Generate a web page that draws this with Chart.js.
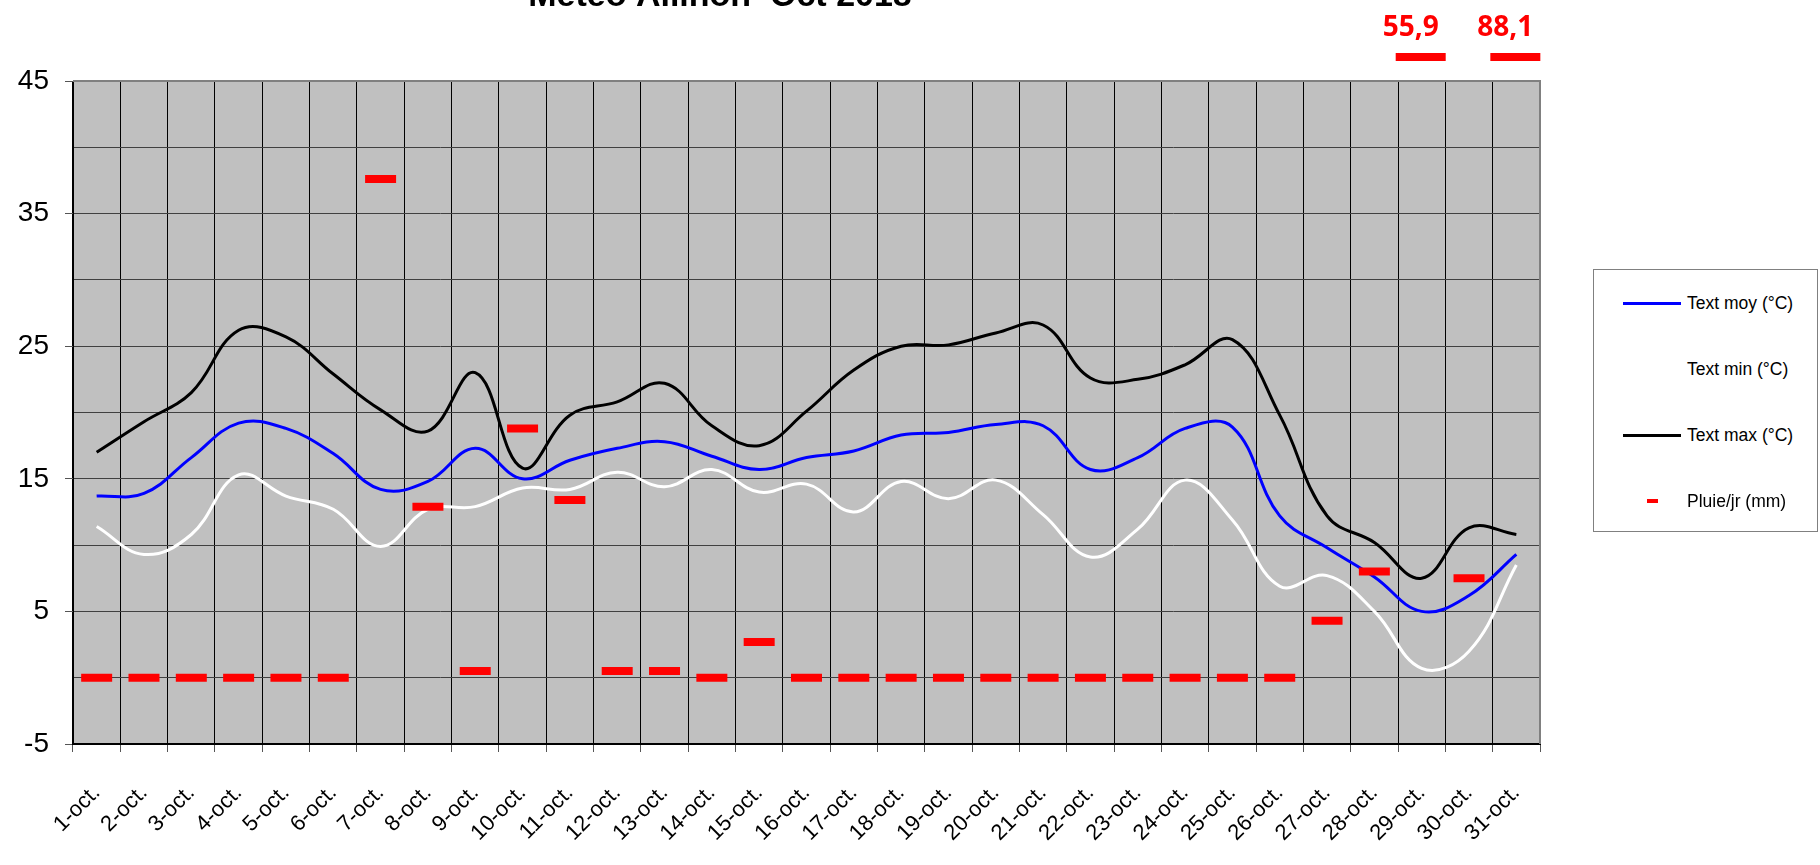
<!DOCTYPE html>
<html lang="fr">
<head>
<meta charset="utf-8">
<title>Meteo Allinon Oct 2018</title>
<script src="https://cdn.jsdelivr.net/npm/chart.js@4.4.0/dist/chart.umd.min.js"></script>
<style>
    body { margin: 0; background: #fff; }
    .wrap { position: relative; width: 1820px; height: 865px; overflow: hidden; }
    #meteoChart { position: absolute; left: 0; top: 0; }
    .legend {
        position: absolute; left: 1593px; top: 269px; width: 225px; height: 263px;
        border: 1px solid #808080; background: #fff; box-sizing: border-box;
        font-family: "Liberation Sans", Arial, sans-serif; font-size: 17.5px; color: #000;
    }
    .legend-item { position: absolute; left: 0; width: 100%; height: 66px; }
    .legend-swatch { position: absolute; }
    .legend-text { position: absolute; left: 93px; top: 0; line-height: 66px; white-space: nowrap; }
</style>
</head>
<body>
<div class="wrap">
    <canvas id="meteoChart" width="1820" height="865"></canvas>
    <div class="legend" id="legend"></div>
</div>
<script>
// Days of the month
const days = ['1-oct.', '2-oct.', '3-oct.', '4-oct.', '5-oct.', '6-oct.', '7-oct.', '8-oct.', '9-oct.', '10-oct.',
    '11-oct.', '12-oct.', '13-oct.', '14-oct.', '15-oct.', '16-oct.', '17-oct.', '18-oct.', '19-oct.', '20-oct.',
    '21-oct.', '22-oct.', '23-oct.', '24-oct.', '25-oct.', '26-oct.', '27-oct.', '28-oct.', '29-oct.', '30-oct.', '31-oct.'];

// Temperatures (°C)
const textMoy = [13.7, 13.9, 16.6, 19.2, 18.8, 16.9, 14.2, 14.8, 17.3, 15.0, 16.4, 17.3, 17.8, 16.7, 15.7, 16.6,
    17.1, 18.3, 18.5, 19.1, 19.0, 15.7, 16.6, 18.8, 18.9, 12.2, 9.8, 7.6, 5.0, 6.2, 9.3];
const textMin = [11.4, 9.3, 10.8, 15.3, 13.7, 12.7, 9.9, 12.7, 12.9, 14.3, 14.2, 15.5, 14.4, 15.7, 14.0, 14.6,
    12.5, 14.8, 13.5, 14.9, 12.3, 9.1, 11.2, 14.9, 11.9, 6.9, 7.7, 5.0, 0.7, 2.0, 8.5];
const textMax = [17.0, 19.3, 21.5, 26.2, 25.7, 22.9, 20.2, 18.6, 23.0, 15.8, 19.8, 20.8, 22.2, 19.0, 17.5, 20.1,
    23.2, 25.0, 25.1, 26.0, 26.6, 22.6, 22.5, 23.6, 25.5, 19.8, 12.2, 10.2, 7.5, 11.3, 10.8];

// Rain per day (mm)
const pluie = [0, 0, 0, 0, 0, 0, 37.6, 12.9, 0.5, 18.8, 13.4, 0.5, 0.5, 0, 2.7, 0, 0, 0, 0, 0, 0, 0, 0, 0, 0, 0,
    4.3, 8.0, 55.9, 7.5, 88.1];

// Y axis range and labelled ticks
const yMin = -5;
const yMax = 45;
const yLabels = [-5, 5, 15, 25, 35, 45];

const chartTitle = 'Meteo Allinon  Oct 2018';

document.addEventListener('DOMContentLoaded', function() {
    const font = '"Liberation Sans", Arial, sans-serif';

    // Grey plot area, frame, clipped title and off-scale rain values
    const plotDecor = {
        id: 'plotDecor',
        beforeDraw(chart) {
            const { ctx, chartArea: a } = chart;
            ctx.save();
            ctx.fillStyle = '#c0c0c0';
            ctx.fillRect(a.left, a.top, a.width, a.height);
            ctx.restore();
        },
        afterDraw(chart) {
            const { ctx, chartArea: a } = chart;
            const xScale = chart.scales.x;
            ctx.save();
            ctx.strokeStyle = '#808080';
            ctx.lineWidth = 2;
            ctx.beginPath();
            ctx.moveTo(a.left, a.top);
            ctx.lineTo(a.right, a.top);
            ctx.lineTo(a.right, a.bottom);
            ctx.stroke();

            // title sits mostly above the page edge, like the original
            ctx.fillStyle = '#000';
            ctx.font = 'bold 34px ' + font;
            ctx.textAlign = 'center';
            ctx.textBaseline = 'alphabetic';
            ctx.fillText(chartTitle, 720, 6);

            // rain above the axis max: dash just above the plot with its value
            ctx.fillStyle = '#ff0000';
            ctx.font = 'bold 28px "Noto Sans", sans-serif';
            pluie.forEach((v, i) => {
                if (v > yMax) {
                    const x = xScale.getPixelForValue(i);
                    const y = a.top - 24;
                    ctx.fillRect(x - 26, y - 4, 50, 8);
                    ctx.fillText(v.toFixed(1).replace('.', ','), x - 11, y - 21);
                }
            });
            ctx.restore();
        }
    };

    const lineStyle = (color) => ({
        borderColor: color,
        backgroundColor: color,
        borderWidth: 3,
        pointRadius: 0,
        pointHoverRadius: 0,
        tension: 0.4,
        fill: false
    });

    const chart = new Chart(document.getElementById('meteoChart'), {
        type: 'line',
        data: {
            labels: days,
            datasets: [
                Object.assign({ label: 'Text moy (°C)', data: textMoy, order: 1 }, lineStyle('#0000ff')),
                Object.assign({ label: 'Text min (°C)', data: textMin, order: 2 }, lineStyle('#ffffff')),
                Object.assign({ label: 'Text max (°C)', data: textMax, order: 3 }, lineStyle('#000000')),
                {
                    label: 'Pluie/jr (mm)',
                    data: pluie,
                    order: 0,
                    showLine: false,
                    borderColor: '#ff0000',
                    backgroundColor: '#ff0000',
                    pointStyle: 'line',
                    pointBorderColor: '#ff0000',
                    pointBorderWidth: 8,
                    pointRadius: (ctx) => (ctx.raw > yMax ? 0 : 15.5),
                    pointHoverRadius: (ctx) => (ctx.raw > yMax ? 0 : 15.5)
                }
            ]
        },
        options: {
            responsive: false,
            animation: false,
            devicePixelRatio: 1,
            layout: { padding: { top: 81, right: 280, left: 0, bottom: 0 } },
            plugins: {
                legend: { display: false },
                tooltip: { enabled: false },
                title: { display: false }
            },
            scales: {
                x: {
                    offset: true,
                    afterFit: (scale) => { scale.height = 121; },
                    grid: { offset: true, color: '#000', lineWidth: 1, tickLength: 8, tickColor: '#555' },
                    border: { color: '#000', width: 2 },
                    ticks: {
                        autoSkip: false,
                        maxRotation: 45,
                        minRotation: 45,
                        padding: 28,
                        color: '#000',
                        font: { family: font, size: 22 }
                    }
                },
                y: {
                    min: yMin,
                    max: yMax,
                    afterFit: (scale) => { scale.width = 73; },
                    grid: {
                        color: '#404040',
                        lineWidth: 1,
                        tickLength: 8,
                        tickColor: (ctx) => (yLabels.includes(ctx.tick.value) ? '#555' : 'transparent')
                    },
                    border: { color: '#000', width: 1 },
                    ticks: {
                        stepSize: 5,
                        padding: 16,
                        color: '#000',
                        font: { family: font, size: 28 },
                        callback: (v) => (yLabels.includes(v) ? v : '')
                    }
                }
            }
        },
        plugins: [plotDecor]
    });

    // Legend box built from the datasets
    const legend = document.getElementById('legend');
    chart.data.datasets.forEach((ds, i) => {
        const item = document.createElement('div');
        item.className = 'legend-item';
        item.style.top = (66 * i) + 'px';
        const swatch = document.createElement('span');
        swatch.className = 'legend-swatch';
        if (ds.showLine === false) {
            swatch.style.cssText = 'left:53px;top:31px;width:11px;height:4px;background:' + ds.pointBorderColor;
        } else {
            swatch.style.cssText = 'left:29px;top:32px;width:58px;height:3px;background:' + ds.borderColor;
        }
        const text = document.createElement('span');
        text.className = 'legend-text';
        text.textContent = ds.label;
        item.appendChild(swatch);
        item.appendChild(text);
        legend.appendChild(item);
    });
});
</script>
</body>
</html>
